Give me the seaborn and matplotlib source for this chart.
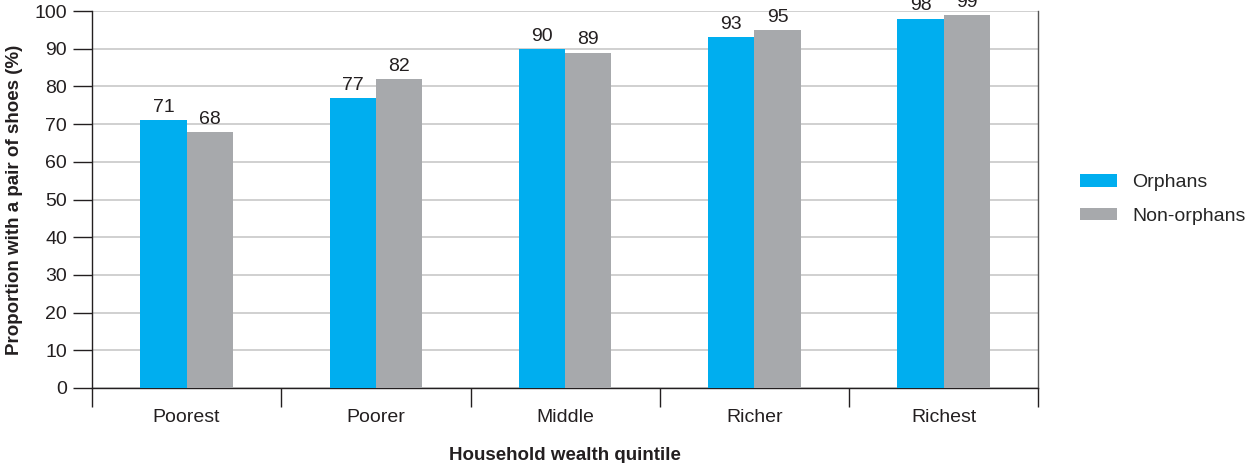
import matplotlib
matplotlib.use("Agg")
import matplotlib.pyplot as plt
import numpy as np
import pandas as pd
import seaborn as sns

quintiles = ["Poorest", "Poorer", "Middle", "Richer", "Richest"]
orphans = [71, 77, 90, 93, 98]
non_orphans = [68, 82, 89, 95, 99]
series_names = ["Orphans", "Non-orphans"]
palette = ["#00AEEF", "#A7A9AC"]

df = pd.DataFrame({
    "quintile": quintiles * 2,
    "value": orphans + non_orphans,
    "group": [series_names[0]] * len(quintiles) + [series_names[1]] * len(quintiles),
})

sns.set_style("white")
plt.rcParams["font.family"] = ["Liberation Sans", "DejaVu Sans"]

ink = "#231F20"
fig = plt.figure(figsize=(12.5, 4.63), dpi=100)
ax = fig.add_axes([0.0736, 0.162, 0.757, 0.814])

sns.barplot(data=df, x="quintile", y="value", hue="group", order=quintiles,
            hue_order=series_names, palette=palette, width=0.49, ax=ax,
            saturation=1, errorbar=None, linewidth=0, zorder=3)

for cont in ax.containers:
    ax.bar_label(cont, fmt="%d", padding=3, fontsize=14, color=ink, clip_on=False)

ax.set_ylim(0, 100)
ax.set_xlim(-0.5, len(quintiles) - 0.5)
ax.set_yticks(np.arange(0, 101, 10))
ax.yaxis.grid(True, color="#C8C8C8", linewidth=1.2, zorder=0)
ax.set_axisbelow(True)

# category labels at centres, boundary ticks between categories
ax.set_xticks(range(len(quintiles)))
ax.set_xticklabels(quintiles)
ax.tick_params(axis="x", which="major", bottom=True, length=0, pad=15, labelsize=14,
               labelcolor=ink)
ax.set_xticks(np.arange(-0.5, len(quintiles), 1.0), minor=True)
ax.tick_params(axis="x", which="minor", bottom=True, length=14, width=1, color=ink,
               direction="out")
ax.tick_params(axis="y", left=True, length=14, width=1, color=ink, direction="out",
               labelsize=14, labelcolor=ink, pad=4)

for side in ["left", "bottom", "right"]:
    ax.spines[side].set_visible(True)
    ax.spines[side].set_color(ink)
    ax.spines[side].set_linewidth(1.0)
ax.spines["right"].set_color("#555555")
ax.spines["top"].set_visible(False)

ax.set_xlabel("Household wealth quintile", fontsize=13.5, fontweight="bold", labelpad=15,
              color=ink)
ax.set_ylabel("Proportion with a pair of shoes (%)", fontsize=13.5, fontweight="bold",
              labelpad=8, color=ink)

ax.legend(loc="center left", bbox_to_anchor=(1.036, 0.5), frameon=False, fontsize=14,
          borderaxespad=0, handlelength=1.9, handleheight=0.6, labelspacing=0.85,
          handletextpad=0.8)

fig.savefig("out.png", dpi=100)
